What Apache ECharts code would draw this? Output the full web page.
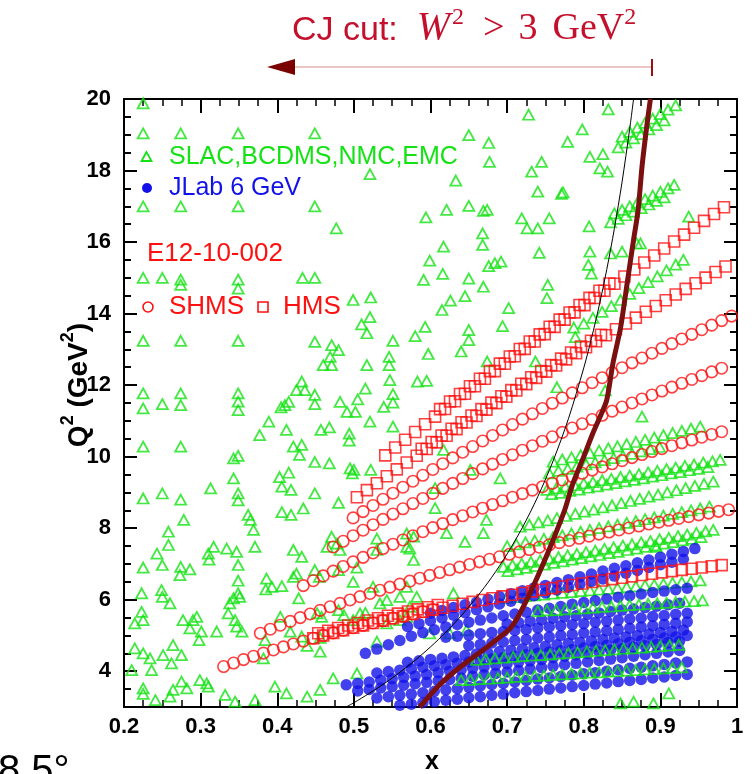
<!DOCTYPE html>
<html>
<head>
<meta charset="utf-8">
<script src="https://cdn.jsdelivr.net/npm/echarts@6/dist/echarts.min.js"></script>
<style>
html,body{margin:0;padding:0;background:#fff;}
#chart{width:754px;height:774px;}
</style>
</head>
<body>
<div id="chart"></div>
<script>
// ---- axis ticks ----
const xTickValues = [0.2, 0.3, 0.4, 0.5, 0.6, 0.7, 0.8, 0.9, 1.0];
const yTickValues = [4, 6, 8, 10, 12, 14, 16, 18, 20];
const yMinorTickValues = [3.5, 4.5, 5, 5.5, 6.5, 7, 7.5, 8.5, 9, 9.5, 10.5, 11, 11.5, 12.5, 13, 13.5, 14.5, 15, 15.5, 16.5, 17, 17.5, 18.5, 19, 19.5];

// ---- SLAC, BCDMS, NMC, EMC : isolated points [x, Q2] ----
const worldScatter = [
[0.225,19.88],[0.225,19.04],[0.274,19.04],[0.349,19.04],[0.449,19.04],[0.521,17.9],[0.225,17.0],[0.274,17.0],[0.349,17.0],[0.449,17.0],
[0.477,16.38],[0.225,15.0],[0.250,15.0],[0.274,14.95],[0.274,14.8],[0.349,14.95],[0.349,14.7],[0.433,15.0],[0.449,15.0],[0.499,14.38],
[0.522,14.45],[0.521,13.9],[0.510,13.7],
[0.225,13.24],[0.274,13.24],[0.349,13.24],[0.449,13.21],[0.471,13.12],[0.480,12.98],[0.517,13.45],[0.551,13.24],[0.58,13.37],
[0.469,12.79],[0.460,12.56],[0.471,12.56],[0.517,12.56],[0.546,12.79],[0.546,12.56],[0.547,12.14],[0.583,12.1],
[0.432,12.1],[0.425,11.86],[0.436,11.86],
[0.225,11.77],[0.225,11.35],[0.250,11.47],[0.274,11.77],[0.274,11.44],[0.349,11.77],[0.349,11.54],[0.349,11.3],
[0.449,11.73],[0.449,11.47],[0.482,11.53],[0.515,11.9],[0.505,11.6],[0.551,11.75],[0.551,11.51],[0.539,11.39],
[0.410,11.44],[0.415,11.53],[0.405,11.38],[0.491,11.25],[0.502,11.25],[0.521,10.98],[0.389,10.98],[0.377,10.6],[0.412,10.75],
[0.457,10.75],[0.468,10.82],[0.494,10.64],[0.494,10.45],[0.551,10.84],
[0.225,10.28],[0.274,10.28],[0.343,9.95],[0.349,10.02],[0.421,10.28],[0.432,10.33],[0.429,10.05],[0.449,9.85],[0.468,9.81],
[0.498,9.53],[0.500,9.63],[0.522,9.63],[0.495,9.67],
[0.343,9.39],[0.349,8.97],[0.349,8.78],[0.313,9.11],[0.403,9.43],[0.415,9.55],[0.406,9.16],[0.418,9.07],[0.449,8.97],
[0.225,8.83],[0.250,8.97],[0.274,8.80],[0.480,8.71],[0.278,8.23],
[0.362,8.37],[0.365,8.23],[0.369,7.95],[0.371,7.48],[0.406,8.45],[0.418,8.37],[0.434,8.55],
[0.258,7.90],[0.258,7.53],[0.243,7.29],[0.250,6.97],[0.225,6.90],[0.274,6.92],[0.286,6.85],[0.273,6.69],
[0.310,7.29],[0.317,7.48],[0.334,7.43],[0.347,7.34],[0.311,7.12],[0.349,6.97],[0.349,6.53],[0.349,6.18],
[0.386,6.59],[0.393,6.36],[0.406,6.38],[0.385,6.29],[0.421,6.64],[0.425,6.73],[0.428,6.04],[0.449,6.83],[0.455,6.64],
[0.480,6.83],[0.504,6.90],
[0.465,7.48],[0.471,7.76],[0.530,7.71],[0.530,7.39],[0.569,7.85],[0.578,7.76],[0.573,7.43],
[0.223,6.18],[0.223,5.66],[0.214,5.34],[0.225,5.43],[0.249,6.27],[0.250,6.08],[0.260,5.9],
[0.277,5.43],[0.290,5.43],[0.286,5.2],[0.295,5.52],[0.321,5.11],
[0.338,5.9],[0.343,6.04],[0.351,6.08],[0.336,5.62],[0.345,5.43],[0.354,5.11],[0.347,5.25],
[0.384,4.87],[0.404,5.52],[0.417,5.11],[0.432,4.97],[0.456,4.93],[0.456,4.55],[0.439,4.71],
[0.214,4.64],[0.225,4.50],[0.234,4.36],[0.236,4.03],[0.251,4.45],[0.264,4.73],[0.262,4.22],[0.275,4.45],[0.210,4.03],
[0.299,3.75],[0.308,3.66],[0.310,3.57],[0.275,3.71],[0.264,3.48],[0.282,3.52],[0.260,3.29],[0.225,3.52],[0.225,3.37],[0.241,3.19],
[0.332,3.34],[0.345,3.15],[0.371,3.19],[0.397,3.57],[0.412,3.38],[0.439,3.29],[0.456,3.48],[0.473,3.80],[0.504,3.94],
[0.530,4.83],[0.452,5.62],[0.458,5.52],[0.480,5.71],[0.487,5.57],[0.499,5.43],[0.508,5.62],[0.515,5.63],[0.534,5.9],
[0.543,5.99],[0.560,6.08],[0.543,5.34],[0.560,5.43],
[0.382,4.36],[0.298,4.87],[0.301,5.11],
[0.421,7.39],[0.432,7.2],[0.478,7.57],[0.482,7.39],[0.499,6.50],[0.525,6.36],[0.569,7.48],[0.578,7.11],[0.569,6.36],
[0.582,6.08],[0.573,5.80],[0.569,5.52],
[0.728,19.56],[0.832,19.71],[0.798,19.15],[0.650,18.99],[0.676,18.77],[0.677,18.24],[0.779,18.80],[0.808,18.38],[0.825,18.46],
[0.745,18.24],[0.732,17.97],[0.821,18.06],[0.831,17.97],[0.633,17.72],[0.740,17.41],[0.771,17.35],[0.773,17.39],
[0.594,16.69],[0.621,16.90],[0.650,17.01],[0.669,16.87],[0.674,16.9],[0.719,16.66],[0.726,16.38],[0.740,16.38],[0.755,16.66],
[0.807,16.44],[0.668,16.24],[0.668,15.92],[0.617,15.87],[0.742,15.70],[0.599,15.48],[0.676,15.33],[0.684,15.41],[0.692,15.45],
[0.616,15.11],[0.650,14.98],[0.591,14.94],[0.669,14.75],[0.645,14.49],[0.626,14.36],[0.615,14.1],[0.753,14.8],[0.752,14.43],
[0.702,14.15],[0.650,13.54],[0.650,13.26],[0.640,12.94],[0.694,13.65],[0.593,13.63],[0.597,12.87],[0.737,12.66],[0.787,13.61],
[0.789,13.34],[0.674,12.66],[0.765,11.94],[0.595,12.12],[0.828,11.85],
[0.808,15.73],[0.806,15.36],[0.810,15.12],[0.835,15.68],[0.850,15.73],[0.869,15.96],[0.874,15.96],[0.937,16.71],
[0.617,10.19],[0.691,9.39],[0.606,8.56],[0.621,7.86],[0.645,7.62],[0.669,7.86],[0.673,8.23],[0.876,11.12],[0.606,9.12],
[0.652,9.63],[0.630,6.18],[0.599,5.06],[0.625,5.06],[0.647,5.15],[0.848,3.10],[0.865,3.15],[0.891,3.10],[0.911,3.38],[0.895,7.48]
];

// ---- SLAC, BCDMS, NMC, EMC : dense kinematic bands [x, Q2] ----
const worldBandTop = [
[0.850,18.95],[0.860,19.08],[0.870,19.2],[0.880,19.33],[0.890,19.45],[0.900,19.58],[0.910,19.7],[0.920,19.82],
[0.845,18.65],[0.855,18.78],[0.865,18.9],[0.875,19.02],[0.885,19.15],[0.895,19.27],[0.905,19.4]
];
const worldBandUpper = [
[0.840,16.8],[0.850,16.9],[0.860,17.0],[0.870,17.1],[0.880,17.2],[0.890,17.3],[0.900,17.4],[0.910,17.5],[0.918,17.6],
[0.835,16.55],[0.845,16.65],[0.855,16.75],[0.865,16.85],[0.875,16.95],[0.885,17.05],[0.895,17.15],[0.905,17.25]
];
const worldBandMid = [
[0.800,13.72],[0.812,13.88],[0.824,14.05],[0.836,14.21],[0.848,14.38],[0.860,14.55],[0.872,14.71],[0.884,14.88],[0.896,15.04],
[0.908,15.21],[0.920,15.37],[0.930,15.50]
];
const worldBandA = [
[0.760,9.86],[0.772,9.92],[0.784,9.98],[0.796,10.04],[0.808,10.10],[0.820,10.17],[0.832,10.23],[0.844,10.29],[0.856,10.35],
[0.868,10.41],[0.880,10.47],[0.892,10.53],[0.904,10.60],[0.916,10.66],[0.928,10.72],[0.940,10.78],[0.952,10.84],
[0.755,9.53],[0.767,9.6],[0.779,9.66],[0.791,9.72],[0.803,9.78],[0.815,9.84],[0.827,9.9],[0.839,9.96],[0.851,10.02],
[0.863,10.08],[0.875,10.15],[0.887,10.21],[0.899,10.27]
];
const worldBandB = [
[0.752,9.07],[0.764,9.11],[0.776,9.16],[0.788,9.20],[0.800,9.25],[0.812,9.29],[0.824,9.34],[0.836,9.38],[0.848,9.43],
[0.860,9.47],[0.872,9.51],[0.884,9.56],[0.896,9.60],[0.908,9.65],[0.920,9.69],[0.932,9.74],[0.944,9.78],[0.956,9.83],
[0.968,9.87],[0.978,9.91],
[0.758,8.95],[0.770,8.99],[0.782,9.04],[0.794,9.08],[0.806,9.13],[0.818,9.17],[0.830,9.22],[0.842,9.26],[0.854,9.31],
[0.866,9.35],[0.878,9.39],[0.890,9.44],[0.902,9.48],[0.914,9.53],[0.926,9.57],[0.938,9.62],[0.950,9.66],[0.962,9.71]
];
const worldBandC = [
[0.717,8.04],[0.729,8.10],[0.741,8.16],[0.753,8.22],[0.765,8.28],[0.777,8.34],[0.789,8.40],[0.801,8.46],[0.813,8.52],
[0.825,8.58],[0.837,8.64],[0.849,8.70],[0.861,8.76],[0.873,8.82],[0.885,8.88],[0.897,8.94],[0.909,9.00],[0.921,9.06],
[0.933,9.12],[0.945,9.18],[0.957,9.24],[0.969,9.30]
];
const worldBandD = [
[0.700,7.50],[0.712,7.55],[0.724,7.60],[0.736,7.65],[0.748,7.70],[0.760,7.75],[0.772,7.80],[0.784,7.85],[0.796,7.90],
[0.808,7.95],[0.820,8.00],[0.832,8.05],[0.844,8.10],[0.856,8.15],[0.868,8.20],[0.880,8.25],[0.892,8.30],[0.904,8.35],
[0.916,8.40],[0.928,8.45],[0.940,8.50],[0.952,8.55],[0.964,8.60]
];
const worldBandE = [
[0.695,6.92],[0.707,6.97],[0.719,7.01],[0.731,7.06],[0.743,7.10],[0.755,7.15],[0.767,7.19],[0.779,7.24],[0.791,7.28],
[0.803,7.33],[0.815,7.37],[0.827,7.42],[0.839,7.46],[0.851,7.51],[0.863,7.55],[0.875,7.60],[0.887,7.64],[0.899,7.69],
[0.911,7.73],[0.923,7.78],[0.935,7.82],[0.947,7.87],[0.959,7.91],[0.969,7.95],
[0.701,6.80],[0.713,6.85],[0.725,6.89],[0.737,6.94],[0.749,6.98],[0.761,7.03],[0.773,7.07],[0.785,7.12],[0.797,7.16],
[0.809,7.21],[0.821,7.25],[0.833,7.30],[0.845,7.34],[0.857,7.39],[0.869,7.43],[0.881,7.48],[0.893,7.52],[0.905,7.57],
[0.917,7.61],[0.929,7.66],[0.941,7.70],[0.953,7.75]
];
const worldBandF = [
[0.700,6.05],[0.712,6.07],[0.724,6.10],[0.736,6.12],[0.748,6.14],[0.760,6.17],[0.772,6.19],[0.784,6.21],[0.796,6.24],
[0.808,6.26],[0.820,6.28],[0.832,6.30],[0.844,6.33],[0.856,6.35],[0.868,6.37],[0.880,6.40],[0.892,6.42],[0.904,6.44],
[0.916,6.47],[0.928,6.49],[0.940,6.51],[0.952,6.54]
];
// rows that run through the JLab region (drawn on top of it)
const worldLowRows = [
[0.660,4.32],[0.672,4.34],[0.684,4.36],[0.696,4.38],[0.708,4.40],[0.720,4.42],[0.732,4.44],[0.744,4.45],[0.756,4.47],
[0.768,4.49],[0.780,4.51],[0.792,4.53],[0.804,4.55],[0.816,4.57],[0.828,4.59],[0.840,4.61],[0.852,4.63],[0.864,4.64],
[0.876,4.66],[0.888,4.68],[0.900,4.70],[0.912,4.72],[0.924,4.74],
[0.740,5.68],[0.752,5.70],[0.764,5.71],[0.776,5.73],[0.788,5.75],[0.800,5.76],[0.812,5.78],[0.824,5.80],[0.836,5.81],
[0.848,5.83],[0.860,5.85],[0.872,5.86],[0.884,5.88],[0.896,5.90],[0.908,5.91],[0.920,5.93],[0.932,5.95],[0.944,5.96],[0.955,5.98],
[0.640,3.75],[0.652,3.76],[0.664,3.78],[0.676,3.79],[0.688,3.81],[0.700,3.82],[0.712,3.84],[0.724,3.85],[0.736,3.87],
[0.748,3.88],[0.760,3.90],[0.772,3.91],[0.784,3.93],[0.796,3.94],[0.808,3.96],[0.820,3.97],[0.832,3.99],[0.844,4.00],
[0.856,4.02],[0.868,4.03],[0.880,4.05],[0.892,4.06],[0.904,4.08],[0.916,4.09],[0.928,4.11]
];

// ---- JLab 6 GeV rows [x, Q2] ----
const jlabRow1 = [
[0.600,5.62],[0.615,5.70],[0.630,5.78],[0.645,5.86],[0.660,5.93],[0.675,6.01],[0.690,6.09],[0.705,6.17],[0.720,6.25],[0.735,6.33],
[0.750,6.40],[0.765,6.48],[0.780,6.56],[0.795,6.64],[0.810,6.72],[0.825,6.80],[0.840,6.88],[0.855,6.95],[0.870,7.03],[0.885,7.11],
[0.900,7.19],[0.915,7.27],[0.930,7.35],[0.945,7.43]
];
const jlabRow2 = [
[0.570,5.25],[0.585,5.33],[0.600,5.41],[0.615,5.49],[0.630,5.57],[0.645,5.64],[0.660,5.72],[0.675,5.80],[0.690,5.88],[0.705,5.96],
[0.720,6.04],[0.735,6.11],[0.750,6.19],[0.765,6.27],[0.780,6.35],[0.795,6.43],[0.810,6.51],[0.825,6.58],[0.840,6.66],[0.855,6.74],
[0.870,6.82],[0.885,6.90],[0.900,6.98],[0.915,7.05],[0.930,7.13]
];
const jlabRow3 = [
[0.515,4.50],[0.530,4.62],[0.545,4.74],[0.560,4.86],[0.575,4.98],[0.590,5.08],[0.605,5.16],[0.620,5.24],[0.635,5.31],[0.650,5.37],
[0.665,5.43],[0.680,5.49],[0.695,5.55],[0.710,5.60],[0.725,5.65],[0.740,5.71],[0.755,5.76],[0.770,5.81],[0.785,5.87],[0.800,5.92],
[0.815,5.97],[0.830,6.02],[0.845,6.07],[0.860,6.11],[0.875,6.16],[0.890,6.20],[0.905,6.24],[0.920,6.28],[0.935,6.32]
];
const jlabRow4 = [
[0.560,3.05],[0.575,3.08],[0.590,3.12],[0.605,3.15],[0.620,3.19],[0.635,3.22],[0.650,3.26],[0.665,3.29],[0.680,3.33],[0.695,3.36],
[0.710,3.40],[0.725,3.43],[0.740,3.46],[0.755,3.50],[0.770,3.53],[0.785,3.57],[0.800,3.60],[0.815,3.64],[0.830,3.67],[0.845,3.71],
[0.860,3.74],[0.875,3.77],[0.890,3.81],[0.905,3.84],[0.920,3.88],[0.935,3.91]
];
const jlabRow5 = [
[0.530,3.25],[0.545,3.29],[0.560,3.33],[0.575,3.36],[0.590,3.40],[0.605,3.44],[0.620,3.48],[0.635,3.51],[0.650,3.55],[0.665,3.59],
[0.680,3.63],[0.695,3.66],[0.710,3.70],[0.725,3.74],[0.740,3.78],[0.755,3.81],[0.770,3.85],[0.785,3.89],[0.800,3.93],[0.815,3.96],
[0.830,4.00],[0.845,4.04],[0.860,4.08],[0.875,4.11],[0.890,4.15],[0.905,4.19],[0.920,4.23],[0.935,4.26]
];
const jlabRow6 = [
[0.505,3.45],[0.520,3.49],[0.535,3.53],[0.550,3.57],[0.565,3.61],[0.580,3.65],[0.595,3.69],[0.610,3.73],[0.625,3.77],[0.640,3.81],
[0.655,3.86],[0.670,3.90],[0.685,3.94],[0.700,3.98],[0.715,4.02],[0.730,4.06],[0.745,4.10],[0.760,4.14],[0.775,4.18],[0.790,4.22],
[0.805,4.26],[0.820,4.30],[0.835,4.34],[0.850,4.38],[0.865,4.42],[0.880,4.46],[0.895,4.50],[0.910,4.54],[0.925,4.58]
];
const jlabRow7 = [
[0.490,3.62],[0.505,3.66],[0.520,3.70],[0.535,3.75],[0.550,3.79],[0.565,3.83],[0.580,3.87],[0.595,3.91],[0.610,3.96],[0.625,4.00],
[0.640,4.04],[0.655,4.08],[0.670,4.12],[0.685,4.17],[0.700,4.21],[0.715,4.25],[0.730,4.29],[0.745,4.33],[0.760,4.38],[0.775,4.42],
[0.790,4.46],[0.805,4.50],[0.820,4.54],[0.835,4.59],[0.850,4.63],[0.865,4.67],[0.880,4.71],[0.895,4.75],[0.910,4.80],[0.925,4.84]
];
const jlabRow8 = [
[0.530,3.95],[0.545,3.99],[0.560,4.03],[0.575,4.07],[0.590,4.11],[0.605,4.15],[0.620,4.18],[0.635,4.22],[0.650,4.26],[0.665,4.30],
[0.680,4.34],[0.695,4.38],[0.710,4.42],[0.725,4.46],[0.740,4.50],[0.755,4.54],[0.770,4.57],[0.785,4.61],[0.800,4.65],[0.815,4.69],
[0.830,4.73],[0.845,4.77],[0.860,4.81],[0.875,4.85],[0.890,4.89],[0.905,4.93],[0.920,4.96],[0.935,5.00]
];
const jlabRow9 = [
[0.570,4.25],[0.585,4.29],[0.600,4.33],[0.615,4.36],[0.630,4.40],[0.645,4.44],[0.660,4.48],[0.675,4.51],[0.690,4.55],[0.705,4.59],
[0.720,4.63],[0.735,4.66],[0.750,4.70],[0.765,4.74],[0.780,4.78],[0.795,4.81],[0.810,4.85],[0.825,4.89],[0.840,4.93],[0.855,4.96],
[0.870,5.00],[0.885,5.04],[0.900,5.08],[0.915,5.11],[0.930,5.15]
];
const jlabRow10 = [
[0.650,4.72],[0.665,4.75],[0.680,4.79],[0.695,4.82],[0.710,4.86],[0.725,4.89],[0.740,4.93],[0.755,4.96],[0.770,5.00],[0.785,5.03],
[0.800,5.07],[0.815,5.10],[0.830,5.13],[0.845,5.17],[0.860,5.20],[0.875,5.24],[0.890,5.27],[0.905,5.31],[0.920,5.34],[0.935,5.38]
];
const jlabRow11 = [
[0.620,4.95],[0.635,4.98],[0.650,5.01],[0.665,5.05],[0.680,5.08],[0.695,5.11],[0.710,5.14],[0.725,5.17],[0.740,5.21],[0.755,5.24],
[0.770,5.27],[0.785,5.30],[0.800,5.33],[0.815,5.37],[0.830,5.40],[0.845,5.43],[0.860,5.46],[0.875,5.49],[0.890,5.53],[0.905,5.56],
[0.920,5.59],[0.935,5.62]
];
const jlabRow12 = [
[0.700,5.32],[0.715,5.36],[0.730,5.40],[0.745,5.44],[0.760,5.48],[0.775,5.52],[0.790,5.55],[0.805,5.59],[0.820,5.63],[0.835,5.67],
[0.850,5.71],[0.865,5.74],[0.880,5.78],[0.895,5.82],[0.910,5.86],[0.925,5.90]
];

// ---- E12-10-002 SHMS settings (open circles) [x, Q2] ----
const shmsSet1 = [
[0.330,4.131],[0.343,4.229],[0.356,4.325],[0.369,4.417],[0.382,4.507],[0.395,4.595],[0.408,4.680],[0.421,4.762],[0.434,4.843],
[0.447,4.921],[0.460,4.998],[0.473,5.072],[0.486,5.144],[0.499,5.215],[0.512,5.283],[0.525,5.350],[0.538,5.416],[0.551,5.480],
[0.564,5.542],[0.577,5.603],[0.590,5.662],[0.603,5.720]
];
const shmsSet2 = [
[0.378,5.062],[0.391,5.176],[0.404,5.286],[0.417,5.394],[0.430,5.499],[0.443,5.602],[0.456,5.703],[0.469,5.802],[0.482,5.898],
[0.495,5.993],[0.508,6.085],[0.521,6.175],[0.534,6.264],[0.547,6.351],[0.560,6.436],[0.573,6.519],[0.586,6.601],[0.599,6.681],
[0.612,6.760],[0.625,6.836],[0.638,6.912],[0.651,6.986],[0.664,7.059],[0.677,7.130],[0.690,7.200],[0.703,7.269],[0.716,7.336],
[0.729,7.403],[0.742,7.468],[0.755,7.532],[0.768,7.595],[0.781,7.656],[0.794,7.717],[0.807,7.777],[0.820,7.835],[0.833,7.893],
[0.846,7.950],[0.859,8.006],[0.872,8.061],[0.885,8.115],[0.898,8.168],[0.911,8.220],[0.924,8.272],[0.937,8.322],[0.950,8.372],
[0.963,8.421],[0.976,8.470],[0.989,8.517]
];
const shmsSet3 = [
[0.434,6.394],[0.447,6.531],[0.460,6.666],[0.473,6.798],[0.486,6.929],[0.499,7.058],[0.512,7.184],[0.525,7.308],[0.538,7.431],
[0.551,7.551],[0.564,7.670],[0.577,7.787],[0.590,7.902],[0.603,8.016],[0.616,8.128],[0.629,8.238],[0.642,8.346],[0.655,8.453],
[0.668,8.559],[0.681,8.662],[0.694,8.765],[0.707,8.866],[0.720,8.965],[0.733,9.063],[0.746,9.160],[0.759,9.256],[0.772,9.349],
[0.785,9.442],[0.798,9.534],[0.811,9.624],[0.824,9.713],[0.837,9.801],[0.850,9.888],[0.863,9.974],[0.876,10.058],[0.889,10.142],
[0.902,10.224],[0.915,10.306],[0.928,10.386],[0.941,10.465],[0.954,10.544],[0.967,10.621],[0.980,10.697]
];
const shmsSet4 = [
[0.473,7.475],[0.486,7.633],[0.499,7.789],[0.512,7.944],[0.525,8.096],[0.538,8.246],[0.551,8.395],[0.564,8.542],[0.577,8.688],
[0.590,8.831],[0.603,8.973],[0.616,9.113],[0.629,9.252],[0.642,9.389],[0.655,9.525],[0.668,9.658],[0.681,9.791],[0.694,9.922],
[0.707,10.052],[0.720,10.180],[0.733,10.306],[0.746,10.431],[0.759,10.556],[0.772,10.678],[0.785,10.799],[0.798,10.919],
[0.811,11.038],[0.824,11.156],[0.837,11.272],[0.850,11.387],[0.863,11.501],[0.876,11.613],[0.889,11.725],[0.902,11.835],
[0.915,11.944],[0.928,12.052],[0.941,12.159],[0.954,12.265],[0.967,12.370],[0.980,12.473]
];
const shmsSet5 = [
[0.499,8.288],[0.512,8.463],[0.525,8.636],[0.538,8.808],[0.551,8.978],[0.564,9.146],[0.577,9.313],[0.590,9.478],[0.603,9.642],
[0.616,9.803],[0.629,9.965],[0.642,10.124],[0.655,10.282],[0.668,10.438],[0.681,10.592],[0.694,10.747],[0.707,10.898],
[0.720,11.049],[0.733,11.198],[0.746,11.347],[0.759,11.493],[0.772,11.639],[0.785,11.783],[0.798,11.926],[0.811,12.067],
[0.824,12.208],[0.837,12.348],[0.850,12.486],[0.863,12.623],[0.876,12.758],[0.889,12.893],[0.902,13.026],[0.915,13.159],
[0.928,13.290],[0.941,13.420],[0.954,13.549],[0.967,13.677],[0.980,13.804],[0.993,13.930]
];

// ---- E12-10-002 HMS settings (open squares) [x, Q2] ----
const hmsSet1 = [
[0.447,4.921],[0.460,4.998],[0.473,5.072],[0.486,5.144],[0.499,5.215],[0.512,5.283],[0.525,5.350],[0.538,5.416],[0.551,5.480],
[0.564,5.542],[0.577,5.603],[0.590,5.662],[0.603,5.720],[0.616,5.777],[0.629,5.832],[0.642,5.887],[0.655,5.939],[0.668,5.991],
[0.681,6.042],[0.694,6.092],[0.707,6.140],[0.720,6.188],[0.733,6.234],[0.746,6.280],[0.759,6.325],[0.772,6.368],[0.785,6.411],
[0.798,6.453],[0.811,6.495],[0.824,6.535],[0.837,6.575],[0.850,6.614],[0.863,6.652],[0.876,6.690],[0.889,6.726],[0.902,6.763],
[0.915,6.798],[0.928,6.833],[0.941,6.867],[0.954,6.901],[0.967,6.934],[0.980,6.966],
[0.4535,5.06],[0.4665,5.13],[0.4795,5.21],[0.4925,5.28],[0.5055,5.35],[0.5185,5.42],[0.5315,5.48],[0.5445,5.55],[0.5575,5.61],
[0.5705,5.67],[0.5835,5.73],[0.5965,5.79],[0.6095,5.85]
];
const hmsSet2 = [
[0.504,8.866],[0.517,9.063],[0.530,9.258],[0.543,9.451],[0.556,9.644],[0.569,9.835],[0.582,10.025],[0.595,10.213],[0.608,10.400],
[0.621,10.586],[0.634,10.770],[0.647,10.954],[0.660,11.136],[0.673,11.316],[0.686,11.496],[0.699,11.675],[0.712,11.851],
[0.725,12.027],[0.738,12.202],[0.751,12.376],[0.764,12.549],[0.777,12.720],[0.790,12.890],[0.803,13.059],[0.816,13.227],
[0.829,13.394],[0.842,13.560],[0.855,13.724],[0.868,13.888],[0.881,14.050],[0.894,14.213],[0.907,14.374],[0.920,14.532],
[0.933,14.690],[0.946,14.848],[0.959,15.006],[0.972,15.161],[0.985,15.316],
[0.5885,10.22],[0.6015,10.41],[0.6145,10.59],[0.6275,10.78],[0.6405,10.96],[0.6535,11.15],[0.6665,11.33],[0.6795,11.51],
[0.6925,11.69],[0.7055,11.86],[0.7185,12.04],[0.7315,12.22],[0.7445,12.39],[0.7575,12.56],[0.7705,12.74],[0.7835,12.91],
[0.7965,13.08],[0.8095,13.24],[0.8225,13.41]
];
const hmsSet3 = [
[0.541,10.035],[0.554,10.254],[0.567,10.472],[0.580,10.688],[0.593,10.904],[0.606,11.119],[0.619,11.334],[0.632,11.547],
[0.645,11.759],[0.658,11.970],[0.671,12.180],[0.684,12.390],[0.697,12.599],[0.710,12.806],[0.723,13.013],[0.736,13.219],
[0.749,13.425],[0.762,13.629],[0.775,13.832],[0.788,14.034],[0.801,14.236],[0.814,14.437],[0.827,14.637],[0.840,14.836],
[0.853,15.035],[0.866,15.232],[0.879,15.429],[0.892,15.625],[0.905,15.820],[0.918,16.014],[0.931,16.208],[0.944,16.401],
[0.957,16.593],[0.970,16.784],[0.983,16.974],
[0.6125,11.33],[0.6255,11.54],[0.6385,11.75],[0.6515,11.97],[0.6645,12.18],[0.6775,12.39],[0.6905,12.60],[0.7035,12.80],
[0.7165,13.01],[0.7295,13.22],[0.7425,13.42],[0.7555,13.63],[0.7685,13.83],[0.7815,14.03],[0.7945,14.24],[0.8075,14.44],
[0.8205,14.64],[0.8335,14.84]
];

// ---- curves [x, Q2] ----
const w2FourCurve = [
[0.490,3.00],[0.50,3.12],[0.52,3.38],[0.54,3.66],[0.56,3.97],[0.58,4.31],[0.60,4.68],[0.62,5.09],[0.64,5.55],[0.66,6.06],
[0.68,6.63],[0.70,7.28],[0.72,8.02],[0.74,8.88],[0.76,9.88],[0.78,11.06],[0.80,12.48],[0.81,13.30],[0.82,14.21],[0.83,15.23],
[0.84,16.38],[0.85,17.68],[0.86,19.17],[0.865,20.0]
];
const cjCutCurve = [
[0.586,3.0],[0.61,3.58],[0.629,3.95],[0.65,4.3],[0.674,4.68],[0.69,4.95],[0.704,5.2],[0.715,5.55],[0.73,6.19],[0.745,6.9],
[0.76,7.67],[0.775,8.5],[0.786,9.26],[0.80,10.0],[0.812,10.66],[0.822,11.15],[0.83,11.58],[0.838,12.6],[0.848,13.6],
[0.857,14.9],[0.865,16.06],[0.871,16.9],[0.876,18.1],[0.882,19.2],[0.887,20.0]
];

// ---- legend / annotation text ----
const legendWorld = 'SLAC,BCDMS,NMC,EMC';
const legendJlab = 'JLab 6 GeV';
const legendExp = 'E12-10-002';
const legendShms = 'SHMS';
const legendHms = 'HMS';

const GREEN = '#14e214';
const BLUE = '#1212e8';
const RED = '#ff1010';
const MAROON = '#7a1010';
const TITLE_RED = '#c4102c';
const SANS = 'Liberation Sans, Arial, sans-serif';
const SERIF = 'Liberation Serif, Times New Roman, serif';

const worldAll = [].concat(worldScatter, worldBandTop, worldBandUpper, worldBandMid, worldBandA, worldBandB,
  worldBandC, worldBandD, worldBandE, worldBandF);
const jlabAll = [].concat(jlabRow1, jlabRow2, jlabRow3, jlabRow4, jlabRow5, jlabRow6, jlabRow7, jlabRow8, jlabRow9,
  jlabRow10, jlabRow11, jlabRow12);
const shmsAll = [].concat(shmsSet1, shmsSet2, shmsSet3, shmsSet4, shmsSet5);
const hmsAll = [].concat(hmsSet1, hmsSet2, hmsSet3);

const chart = echarts.init(document.getElementById('chart'), null, {renderer: 'canvas'});

const axisFont = {fontFamily: SANS, fontWeight: 'bold', fontSize: 22, color: '#000'};
const frameLine = {show: true, onZero: false, lineStyle: {color: '#000', width: 2}};

function xAxisDef(pos, labels) {
  return {
    type: 'value', min: 0.2, max: 1.0, interval: 0.1, position: pos,
    axisLine: frameLine,
    axisTick: {show: true, inside: true, length: 14, lineStyle: {color: '#000', width: 2}},
    minorTick: {show: true, splitNumber: 4, length: 7, lineStyle: {color: '#000', width: 1.5}},
    splitLine: {show: false}, minorSplitLine: {show: false},
    axisLabel: labels ? Object.assign({show: true, margin: 9,
      formatter: v => String(Math.round(v * 10) / 10)}, axisFont) : {show: false}
  };
}
function yAxisDef(pos, ticks, len, labels) {
  return {
    type: 'value', min: 3, max: 20, position: pos,
    axisLine: labels ? frameLine : {show: false},
    axisTick: {show: true, inside: true, length: len, customValues: ticks, lineStyle: {color: '#000', width: 2}},
    splitLine: {show: false},
    axisLabel: labels ? Object.assign({show: true, margin: 13, customValues: yTickValues,
      formatter: v => String(v)}, axisFont) : {show: false}
  };
}

const triangleStyle = {color: 'rgba(0,0,0,0)', borderColor: GREEN, borderWidth: 1.8};

const option = {
  animation: false,
  backgroundColor: '#fff',
  grid: {left: 124, right: 17, top: 99, bottom: 67},
  xAxis: [xAxisDef('bottom', true), xAxisDef('top', false)],
  yAxis: [
    yAxisDef('left', yTickValues, 13, true),
    yAxisDef('left', yMinorTickValues, 7, false),
    Object.assign(yAxisDef('right', yTickValues, 13, false), {axisLine: frameLine}),
    yAxisDef('right', yMinorTickValues, 7, false)
  ],
  series: [
    {
      name: legendWorld, type: 'scatter', silent: true, data: worldAll,
      symbol: 'triangle', symbolSize: [11, 10], itemStyle: triangleStyle
    },
    {
      name: legendJlab, type: 'scatter', silent: true, data: jlabAll,
      symbol: 'circle', symbolSize: 11.5,
      itemStyle: {color: BLUE}
    },
    {
      name: legendWorld + ' (low Q2 rows)', type: 'scatter', silent: true, data: worldLowRows,
      symbol: 'triangle', symbolSize: [11, 10], itemStyle: triangleStyle
    },
    {
      name: legendShms, type: 'scatter', silent: true, data: shmsAll,
      symbol: 'circle', symbolSize: 11.5,
      itemStyle: {color: 'rgba(0,0,0,0)', borderColor: RED, borderWidth: 1.6}
    },
    {
      name: legendHms, type: 'scatter', silent: true, data: hmsAll,
      symbol: 'rect', symbolSize: 11,
      itemStyle: {color: 'rgba(0,0,0,0)', borderColor: RED, borderWidth: 1.6}
    },
    {
      name: 'W2 = 4', type: 'line', silent: true, data: w2FourCurve, showSymbol: false, smooth: 0.3,
      lineStyle: {color: '#000', width: 1}
    },
    {
      name: 'CJ cut', type: 'line', silent: true, data: cjCutCurve, showSymbol: false, smooth: 0.25,
      lineStyle: {color: MAROON, width: 5}
    }
  ],
  graphic: [
    // heading
    {
      type: 'text', left: 292, top: 6, silent: true,
      style: {
        text: '{a|CJ cut:}{w|W}{s|2}{o|>}{n|3}{g|GeV}{s|2}',
        rich: {
          a: {fontFamily: SANS, fontSize: 34, fill: TITLE_RED, lineHeight: 42, verticalAlign: 'bottom', padding: [0, 19, 0, 0]},
          w: {fontFamily: SERIF, fontStyle: 'italic', fontSize: 40, fill: TITLE_RED, lineHeight: 42, verticalAlign: 'bottom', padding: [0, 2, 0, 0]},
          s: {fontFamily: SERIF, fontSize: 24, fill: TITLE_RED, lineHeight: 42, verticalAlign: 'top'},
          o: {fontFamily: SERIF, fontSize: 38, fill: TITLE_RED, lineHeight: 42, verticalAlign: 'bottom', padding: [0, 14, 0, 19]},
          n: {fontFamily: SERIF, fontSize: 38, fill: TITLE_RED, lineHeight: 42, verticalAlign: 'bottom', padding: [0, 15, 0, 0]},
          g: {fontFamily: SERIF, fontSize: 38, fill: TITLE_RED, lineHeight: 42, verticalAlign: 'bottom'}
        }
      }
    },
    // arrow under heading
    {type: 'line', silent: true, shape: {x1: 290, y1: 67, x2: 652, y2: 67}, style: {stroke: '#d88a8a', lineWidth: 1.2}},
    {type: 'polygon', silent: true, shape: {points: [[267, 67], [295, 59], [295, 75]]}, style: {fill: '#7a0000'}},
    {type: 'line', silent: true, shape: {x1: 652, y1: 59, x2: 652, y2: 76}, style: {stroke: '#9a1010', lineWidth: 2}},
    // legend block
    {type: 'polygon', silent: true, shape: {points: [[146.5, 152], [141.5, 161], [151.5, 161]]}, style: {fill: 'none', stroke: GREEN, lineWidth: 1.8}},
    {type: 'text', silent: true, x: 169, y: 157, style: {text: legendWorld, fill: GREEN, fontSize: 25, fontFamily: SANS, verticalAlign: 'middle'}},
    {type: 'circle', silent: true, shape: {cx: 147, cy: 188, r: 5}, style: {fill: BLUE}},
    {type: 'text', silent: true, x: 169, y: 188, style: {text: legendJlab, fill: BLUE, fontSize: 25, fontFamily: SANS, verticalAlign: 'middle'}},
    {type: 'text', silent: true, x: 147, y: 254, style: {text: legendExp, fill: RED, fontSize: 26, fontFamily: SANS, verticalAlign: 'middle'}},
    {type: 'circle', silent: true, shape: {cx: 148, cy: 307, r: 5}, style: {fill: 'none', stroke: RED, lineWidth: 1.6}},
    {type: 'text', silent: true, x: 169, y: 307, style: {text: legendShms, fill: RED, fontSize: 26, fontFamily: SANS, verticalAlign: 'middle'}},
    {type: 'rect', silent: true, shape: {x: 258, y: 302, width: 10, height: 10}, style: {fill: 'none', stroke: RED, lineWidth: 1.6}},
    {type: 'text', silent: true, x: 283, y: 307, style: {text: legendHms, fill: RED, fontSize: 26, fontFamily: SANS, verticalAlign: 'middle'}},
    // axis titles
    {type: 'text', silent: true, x: 432, y: 762, style: {text: 'x', fill: '#000', fontSize: 25, fontWeight: 'bold', fontFamily: SANS, align: 'center', verticalAlign: 'middle'}},
    {
      type: 'text', silent: true, x: 76, y: 385, rotation: Math.PI / 2,
      style: {
        text: '{m|Q}{s|2}{m| (GeV}{s|2}{m|)}', align: 'center', verticalAlign: 'middle',
        rich: {
          m: {fontFamily: SANS, fontWeight: 'bold', fontSize: 28, fill: '#000', lineHeight: 34, verticalAlign: 'bottom'},
          s: {fontFamily: SANS, fontWeight: 'bold', fontSize: 18, fill: '#000', lineHeight: 34, verticalAlign: 'top'}
        }
      }
    },
    // angle note at lower left
    {type: 'text', silent: true, x: -2, y: 752, style: {text: '8.5°', fill: '#000', fontSize: 40, fontFamily: SANS, verticalAlign: 'top'}}
  ]
};
chart.setOption(option);
</script>
</body>
</html>
